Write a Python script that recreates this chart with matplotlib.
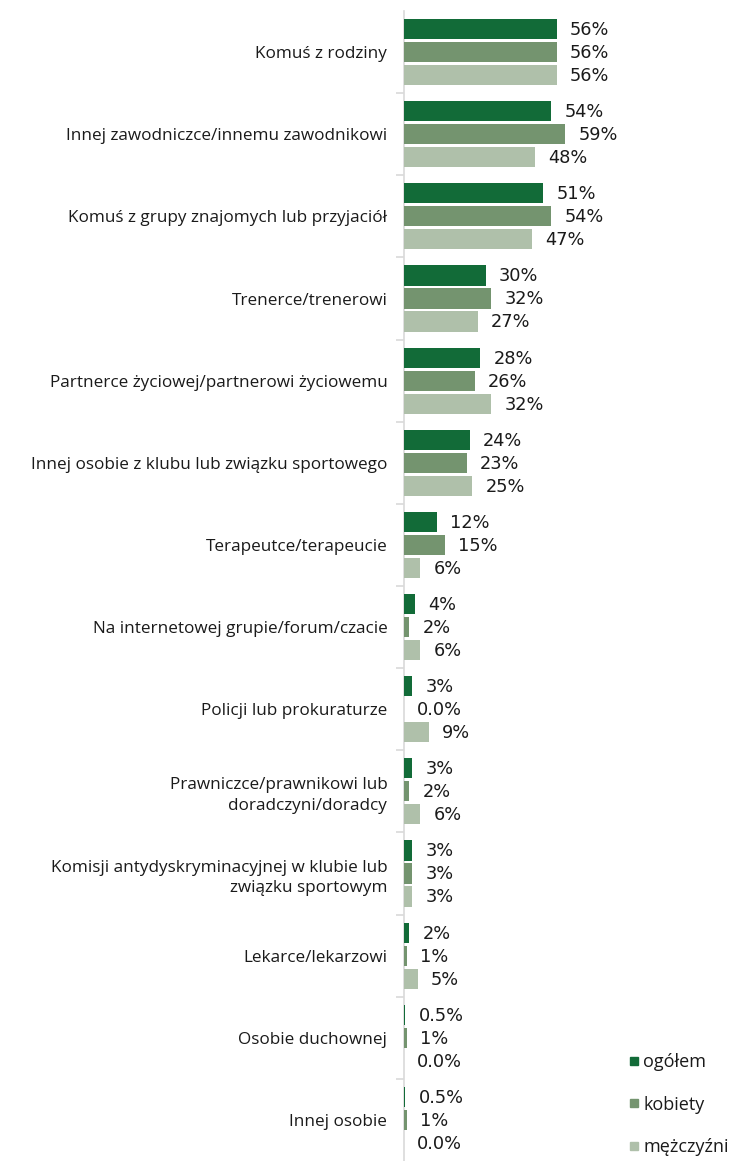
import matplotlib
matplotlib.use("Agg")
import matplotlib.pyplot as plt
from matplotlib.lines import Line2D
import numpy as np

categories = [
    "Komuś z rodziny",
    "Innej zawodniczce/innemu zawodnikowi",
    "Komuś z grupy znajomych lub przyjaciół",
    "Trenerce/trenerowi",
    "Partnerce życiowej/partnerowi życiowemu",
    "Innej osobie z klubu lub związku sportowego",
    "Terapeutce/terapeucie",
    "Na internetowej grupie/forum/czacie",
    "Policji lub prokuraturze",
    "Prawniczce/prawnikowi lub\ndoradczyni/doradcy",
    "Komisji antydyskryminacyjnej w klubie lub\nzwiązku sportowym",
    "Lekarce/lekarzowi",
    "Osobie duchownej",
    "Innej osobie",
]
ogolem = [56, 54, 51, 30, 28, 24, 12, 4, 3, 3, 3, 2, 0.5, 0.5]
kobiety = [56, 59, 54, 32, 26, 23, 15, 2, 0, 2, 3, 1, 1, 1]
mezczyzni = [56, 48, 47, 27, 32, 25, 6, 6, 9, 6, 3, 5, 0, 0]
series_names = ["ogółem", "kobiety", "mężczyźni"]
colors = ["#126b38", "#74946f", "#afc0aa"]

W, H = 733, 1161
fig = plt.figure(figsize=(W / 100, H / 100), dpi=100)
ax = fig.add_axes([404 / W, 0, (W - 404) / W, 1150 / H])

n = len(categories)
y = np.arange(n)
pitch = 0.28
bh = 0.245
label_font = "DejaVu Sans"
for k, (vals, col) in enumerate(zip([ogolem, kobiety, mezczyzni], colors)):
    yy = y + (k - 1) * pitch
    ax.barh(yy, vals, height=bh, color=col, zorder=3)
    for yi, v in zip(yy, vals):
        if v == 0:
            s = "0.0%"
        elif v < 1:
            s = f"{v:.1f}%"
        else:
            s = f"{v:.0f}%"
        ax.annotate(s, (v, yi), xytext=(9.5, -0.7), textcoords="offset points",
                    va="center", ha="left", fontsize=12.8, color="#1a1a1a",
                    family=label_font)

ax.set_xlim(0, (W - 404) / 2.73)
ax.set_ylim(n - 0.5, -0.5)
ax.set_yticks(y)
ax.set_yticklabels(categories, fontsize=12.3, family="Open Sans", color="#1a1a1a",
                   linespacing=1.4)
ax.tick_params(axis="y", which="major", length=0, pad=12)
ax.set_yticks(np.arange(n - 1) + 0.5, minor=True)
ax.tick_params(axis="y", which="minor", length=6, color="#d9d9d9", width=1.2)
ax.set_xticks([])
for s in ["top", "right", "bottom"]:
    ax.spines[s].set_visible(False)
ax.spines["left"].set_color("#d9d9d9")
ax.spines["left"].set_linewidth(1.2)

handles = [Line2D([], [], marker="s", linestyle="", markersize=6, color=c) for c in colors]
fig.legend(handles, series_names, loc="upper left",
           bbox_to_anchor=(611 / W, 1 - 1037 / H), frameon=False,
           handlelength=0.8, handletextpad=0.1, labelspacing=1.36,
           prop={"family": "Open Sans", "size": 13}, labelcolor="#1a1a1a")

fig.savefig("out.png", dpi=100)
